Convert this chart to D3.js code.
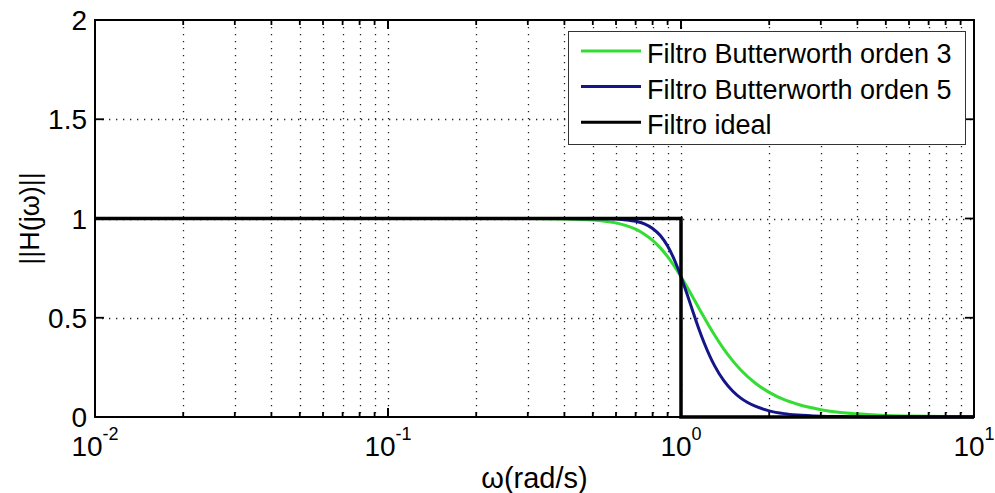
<!DOCTYPE html>
<html>
<head>
<meta charset="utf-8">
<script src="https://cdn.jsdelivr.net/npm/d3@7"></script>
<style>
  body { margin: 0; background: #fff; }
  svg { display: block; }
  text { font-family: "Liberation Sans", Arial, Helvetica, sans-serif; fill: #000; }
</style>
</head>
<body>
<svg id="chart" width="995" height="493"></svg>
<script>
// Angular frequency samples (rad/s)
const omega = [0.01, 0.1, 0.2, 0.3, 0.4, 0.5, 0.55, 0.6, 0.65, 0.7, 0.75, 0.8, 0.85, 0.9, 0.95,
               1.0, 1.05, 1.1, 1.15, 1.2, 1.3, 1.4, 1.5, 1.6, 1.8, 2.0, 2.25, 2.5, 3, 3.5, 4, 5, 6, 8, 10];
// Magnitude of the 3rd-order Butterworth response
const butter3 = [1, 1, 1, 1, 0.998, 0.992, 0.986, 0.978, 0.964, 0.946, 0.921, 0.890, 0.852, 0.808, 0.759,
                 0.707, 0.654, 0.601, 0.549, 0.501, 0.414, 0.342, 0.284, 0.237, 0.169, 0.124, 0.087, 0.064,
                 0.037, 0.023, 0.016, 0.008, 0.005, 0.002, 0.001];
// Magnitude of the 5th-order Butterworth response
const butter5 = [1, 1, 1, 1, 1, 0.999, 0.999, 0.997, 0.993, 0.986, 0.973, 0.950, 0.914, 0.861, 0.791,
                 0.707, 0.617, 0.528, 0.445, 0.373, 0.260, 0.183, 0.131, 0.095, 0.053, 0.031, 0.017, 0.010,
                 0.004, 0.002, 0.001, 0, 0, 0, 0];
// Ideal (brick-wall) low-pass filter
const idealOmega = [0.01, 1, 1, 10];
const idealGain  = [1, 1, 0, 0];

const seriesNames = ["Filtro Butterworth orden 3", "Filtro Butterworth orden 5", "Filtro ideal"];
const seriesColors = ["#33dd33", "#15158a", "#000000"];
const yTicks = [0, 0.5, 1, 1.5, 2];
const yTickLabels = ["0", "0.5", "1", "1.5", "2"];
const xDecades = [-2, -1, 0, 1];
const xLabel = "ω(rad/s)";
const yLabel = "||H(jω)||";

const svg = d3.select("#chart");
const W = 995, H = 493;
const m = { left: 95, top: 20, right: 21, bottom: 76 };
const x0 = m.left, x1 = W - m.right, y0 = m.top, y1 = H - m.bottom;

const x = d3.scaleLog().domain([0.01, 10]).range([x0, x1]);
const y = d3.scaleLinear().domain([0, 2]).range([y1, y0]);

svg.append("rect").attr("width", W).attr("height", H).attr("fill", "#fff");

// Grid: all minor/major decade lines, plus horizontal lines
const gridX = [];
xDecades.slice(0, -1).forEach(k => {
  for (let j = 1; j <= 9; j++) {
    const v = j * Math.pow(10, k);
    if (v > 0.01 && v < 10) gridX.push(v);
  }
});
const grid = svg.append("g").attr("stroke", "#222").attr("stroke-width", 1.3)
  .attr("stroke-dasharray", "1.3,5.7").attr("fill", "none");
grid.selectAll("line.gx").data(gridX).join("line").attr("class", "gx")
  .attr("x1", d => Math.round(x(d)) + 0.5).attr("x2", d => Math.round(x(d)) + 0.5)
  .attr("y1", y0).attr("y2", y1);
grid.selectAll("line.gy").data(yTicks.filter(v => v > 0 && v < 2)).join("line").attr("class", "gy")
  .attr("x1", x0).attr("x2", x1)
  .attr("y1", d => Math.round(y(d)) + 0.5).attr("y2", d => Math.round(y(d)) + 0.5);

// Curves
const line = d3.line().x(d => x(d[0])).y(d => y(d[1])).curve(d3.curveMonotoneX);
const lineStraight = d3.line().x(d => x(d[0])).y(d => y(d[1]));
const curves = [
  { pts: omega.map((w, i) => [w, butter3[i]]), gen: line, width: 3 },
  { pts: omega.map((w, i) => [w, butter5[i]]), gen: line, width: 3 },
  { pts: idealOmega.map((w, i) => [w, idealGain[i]]), gen: lineStraight, width: 3.5 }
];
curves.forEach((c, i) => {
  svg.append("path").attr("d", c.gen(c.pts)).attr("fill", "none")
    .attr("stroke", seriesColors[i]).attr("stroke-width", c.width)
    .attr("stroke-linejoin", "miter");
});

// Axes box
svg.append("rect").attr("x", x0).attr("y", y0).attr("width", x1 - x0).attr("height", y1 - y0)
  .attr("fill", "none").attr("stroke", "#000").attr("stroke-width", 2);

// Tick marks on all four sides
const ticks = svg.append("g").attr("stroke", "#000").attr("stroke-width", 1.8);
const majorX = xDecades.map(k => Math.pow(10, k));
const majLen = 9, minLen = 5;
majorX.concat(gridX).forEach(v => {
  const len = majorX.includes(v) ? majLen : minLen;
  const px = x(v);
  ticks.append("line").attr("x1", px).attr("x2", px).attr("y1", y1).attr("y2", y1 - len);
  ticks.append("line").attr("x1", px).attr("x2", px).attr("y1", y0).attr("y2", y0 + len);
});
yTicks.forEach(v => {
  const py = y(v);
  ticks.append("line").attr("x1", x0).attr("x2", x0 + majLen).attr("y1", py).attr("y2", py);
  ticks.append("line").attr("x1", x1).attr("x2", x1 - majLen).attr("y1", py).attr("y2", py);
});

// Y tick labels
svg.selectAll("text.yt").data(yTicks).join("text").attr("class", "yt")
  .attr("x", x0 - 8).attr("y", d => y(d) + 10)
  .attr("text-anchor", "end").attr("font-size", 28)
  .text((d, i) => yTickLabels[i]);

// X tick labels as powers of ten
xDecades.forEach(k => {
  const t = svg.append("text").attr("x", x(Math.pow(10, k))).attr("y", y1 + 39)
    .attr("text-anchor", "middle").attr("font-size", 28);
  t.append("tspan").text("10");
  t.append("tspan").attr("font-size", 18).attr("dy", -16).text(String(k));
});

// Axis titles
svg.append("text").attr("x", (x0 + x1) / 2).attr("y", 488).attr("text-anchor", "middle")
  .attr("font-size", 29).text(xLabel);
svg.append("text").attr("transform", `translate(39,${(y0 + y1) / 2}) rotate(-90)`)
  .attr("text-anchor", "middle").attr("font-size", 27).text(yLabel);

// Legend
const lg = svg.append("g");
lg.append("rect").attr("x", 568.5).attr("y", 31.5).attr("width", 397).attr("height", 113)
  .attr("fill", "#fff").attr("stroke", "#333").attr("stroke-width", 1);
seriesNames.forEach((name, i) => {
  const ry = 51 + i * 35.6;
  lg.append("line").attr("x1", 581).attr("x2", 641).attr("y1", ry).attr("y2", ry)
    .attr("stroke", seriesColors[i]).attr("stroke-width", 3);
  lg.append("text").attr("x", 647).attr("y", ry + 12).attr("font-size", 27).text(name);
});
</script>
</body>
</html>
